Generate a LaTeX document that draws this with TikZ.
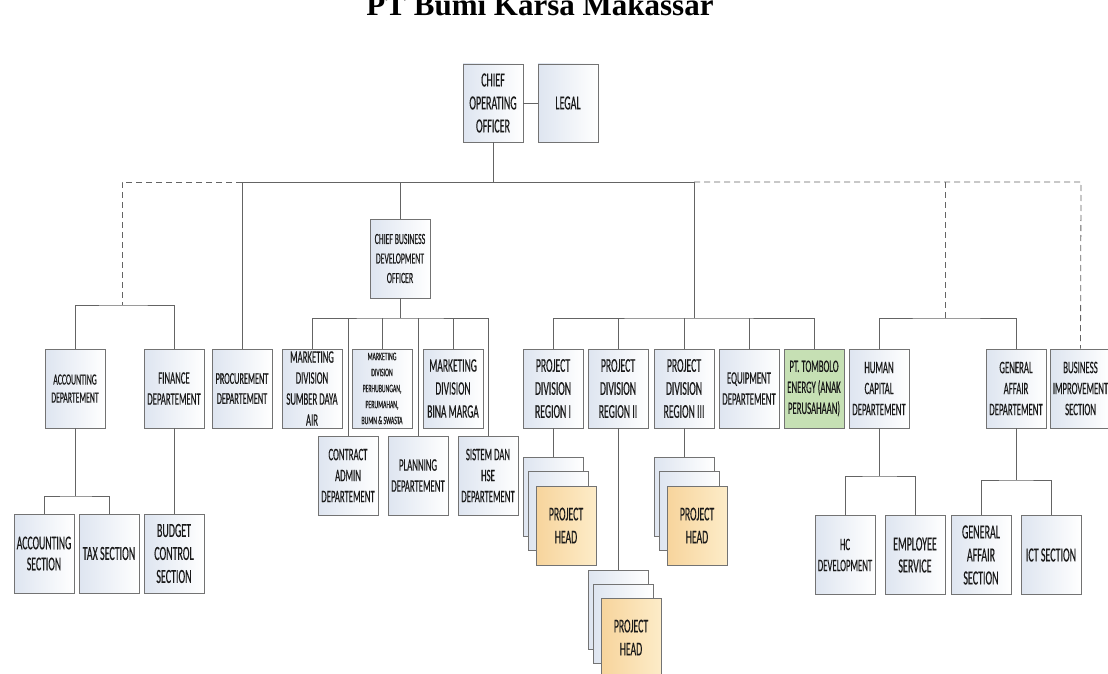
\documentclass[tikz,border=0pt]{standalone}
\usepackage{fontspec}
\setmainfont{Carlito}[FakeStretch=0.5,FakeBold=0.35]
\newfontfamily\titlefont{Liberation Serif}
\newcommand{\fs}[2]{\fontsize{#1}{#2}\selectfont}
\definecolor{boxline}{RGB}{115,115,115}
\definecolor{boxl}{RGB}{222,229,240}
\definecolor{conn}{RGB}{100,100,100}
\definecolor{headl}{RGB}{247,212,156}
\definecolor{headr}{RGB}{253,236,200}
\definecolor{tomgreen}{RGB}{198,224,180}
\definecolor{txt}{RGB}{25,25,25}
\begin{document}
\begin{tikzpicture}[x=1pt,y=-1pt,
  box/.style={draw=boxline, line width=0.8pt, left color=boxl, right color=white,
    minimum width=60pt, minimum height=79pt, inner sep=1pt, align=center,
    text=txt, font=\fs{17.5}{21}},
  headbox/.style={box, left color=headl, right color=headr, font=\fs{19.5}{23}},
  greenbox/.style={box, left color=tomgreen, right color=tomgreen},
  ln/.style={draw=conn, line width=0.8pt},
  dl/.style={ln, dash pattern=on 6pt off 4pt}]
\useasboundingbox (0,0) rectangle (1108,674);
\clip (0,0) rectangle (1108,674);
\fill[white] (0,0) rectangle (1108,674);

% title
\node[anchor=base, font=\titlefont\bfseries\fontsize{31}{31}\selectfont, inner sep=0] (title) at (540,16) {PT Bumi Karsa Makassar};

% top level
\node[box, minimum height=78pt, font=\fs{20}{23}] (coo) at (493,103) {CHIEF\\OPERATING\\OFFICER};
\node[box, minimum height=78pt, font=\fs{20}{23}] (legal) at (568,103) {LEGAL};
\node[box, font=\fs{15.5}{19.5}] (cbdo) at (400,258.5) {CHIEF BUSINESS\\DEVELOPMENT\\OFFICER};

% second level
\node[box, font=\fs{15.5}{18}] (accd) at (75,388.5) {ACCOUNTING\\DEPARTEMENT};
\node[box] (fin) at (174,388.5) {FINANCE\\DEPARTEMENT};
\node[box, font=\fs{16.5}{20}] (proc) at (242,388.5) {PROCUREMENT\\DEPARTEMENT};
\node[box] (msda) at (312,388.5) {MARKETING\\DIVISION\\SUMBER DAYA\\AIR};
\node[box, font=\fs{11.5}{16}] (mper) at (382,388.5) {MARKETING\\DIVISION\\PERHUBUNGAN,\\PERUMAHAN,\\BUMN \& SWASTA};
\node[box, font=\fs{19}{23}] (mbm) at (453,388.5) {MARKETING\\DIVISION\\BINA MARGA};
\node[box] (cont) at (348,475.5) {CONTRACT\\ADMIN\\DEPARTEMENT};
\node[box] (plan) at (418,475.5) {PLANNING\\DEPARTEMENT};
\node[box] (hse) at (488,475.5) {SISTEM DAN\\HSE\\DEPARTEMENT};
\node[box, font=\fs{19.5}{23}] (pd1) at (553,388.5) {PROJECT\\DIVISION\\REGION I};
\node[box, font=\fs{19.5}{23}] (pd2) at (618,388.5) {PROJECT\\DIVISION\\REGION II};
\node[box, font=\fs{19.5}{23}] (pd3) at (684,388.5) {PROJECT\\DIVISION\\REGION III};
\node[box] (eq) at (749,388.5) {EQUIPMENT\\DEPARTEMENT};
\node[greenbox] (tom) at (814,388.5) {PT. TOMBOLO\\ENERGY (ANAK\\PERUSAHAAN)};
\node[box] (hc) at (879,388.5) {HUMAN\\CAPITAL\\DEPARTEMENT};
\node[box] (ga) at (1016,388.5) {GENERAL\\AFFAIR\\DEPARTEMENT};
\node[box] (bi) at (1080.5,388.5) {BUSINESS\\IMPROVEMENT\\SECTION};

% third level
\node[box, font=\fs{19.5}{21}] (acs) at (44,553.5) {ACCOUNTING\\SECTION};
\node[box, font=\fs{20}{22}] (tax) at (109,553.5) {TAX SECTION};
\node[box, font=\fs{20}{23}] (bud) at (174,553.5) {BUDGET\\CONTROL\\SECTION};
\node[box] (hcd) at (845,555) {HC\\DEVELOPMENT};
\node[box, font=\fs{20}{22}] (emp) at (915,555) {EMPLOYEE\\SERVICE};
\node[box, font=\fs{20}{23}] (gas) at (981,555) {GENERAL\\AFFAIR\\SECTION};
\node[box, font=\fs{20}{22}] (ict) at (1051,555) {ICT SECTION};

% project head stacks
\node[box] (ph1a) at (553,497) {};
\node[box] (ph1b) at (558,510.5) {};
\node[headbox] (ph1) at (566,525.5) {PROJECT\\HEAD};
\node[box] (ph3a) at (684,497) {};
\node[box] (ph3b) at (689,510.5) {};
\node[headbox] (ph3) at (697,525.5) {PROJECT\\HEAD};
\node[box] (ph2a) at (618,610) {};
\node[box] (ph2b) at (623,624) {};
\node[headbox] (ph2) at (631,637.5) {PROJECT\\HEAD};

% junction coordinates
\coordinate (jtop) at (493,182);
\coordinate (jl) at (122,182);
\coordinate (jlb) at (122,305);
\coordinate (jproc) at (242,182);
\coordinate (jcb) at (400,182);
\coordinate (jpr) at (694,182);
\coordinate (jhg) at (945,182);
\coordinate (jbi) at (1081,182);
\coordinate (jmk) at (400,318);
\coordinate (jpj) at (694,318);
\coordinate (jhgb) at (945,318);
\coordinate (jacc) at (75,496);
\coordinate (jhc) at (879,476);
\coordinate (jga) at (1016,480);

% connectors
\draw[ln] (coo.east) -- (legal.west);
\draw[ln] (coo.south) -- (jtop);
\draw[ln] (jproc) -- (jpr);
\draw[dl] (jproc) -- (jl) -- (jlb);
\draw[dl] (jpr) -- (jbi) -- (bi.north);
\draw[dl] (jhg) -- (jhgb);
\draw[ln] (accd.north) |- (jlb) -| (fin.north);
\draw[ln] (jproc) -- (proc.north);
\draw[ln] (jcb) -- (cbdo.north);
\draw[ln] (cbdo.south) -- (jmk);
\draw[ln] (msda.north) |- (jmk) -| (hse.north);
\draw[ln] (mper.north) -- (mper.north |- jmk);
\draw[ln] (mbm.north) -- (mbm.north |- jmk);
\draw[ln] (cont.north) -- (cont.north |- jmk);
\draw[ln] (plan.north) -- (plan.north |- jmk);
\draw[ln] (jpr) -- (jpj);
\draw[ln] (pd1.north) |- (jpj) -| (tom.north);
\draw[ln] (pd2.north) -- (pd2.north |- jpj);
\draw[ln] (pd3.north) -- (pd3.north |- jpj);
\draw[ln] (eq.north) -- (eq.north |- jpj);
\draw[ln] (hc.north) |- (jhgb) -| (ga.north);
\draw[ln] (pd1.south) -- (ph1a.north);
\draw[ln] (pd2.south) -- (ph2a.north);
\draw[ln] (pd3.south) -- (ph3a.north);
\draw[ln] (accd.south) -- (jacc);
\draw[ln] (acs.north) |- (jacc) -| (tax.north);
\draw[ln] (fin.south) -- (bud.north);
\draw[ln] (hc.south) -- (jhc);
\draw[ln] (hcd.north) |- (jhc) -| (emp.north);
\draw[ln] (ga.south) -- (jga);
\draw[ln] (gas.north) |- (jga) -| (ict.north);
\end{tikzpicture}
\end{document}
